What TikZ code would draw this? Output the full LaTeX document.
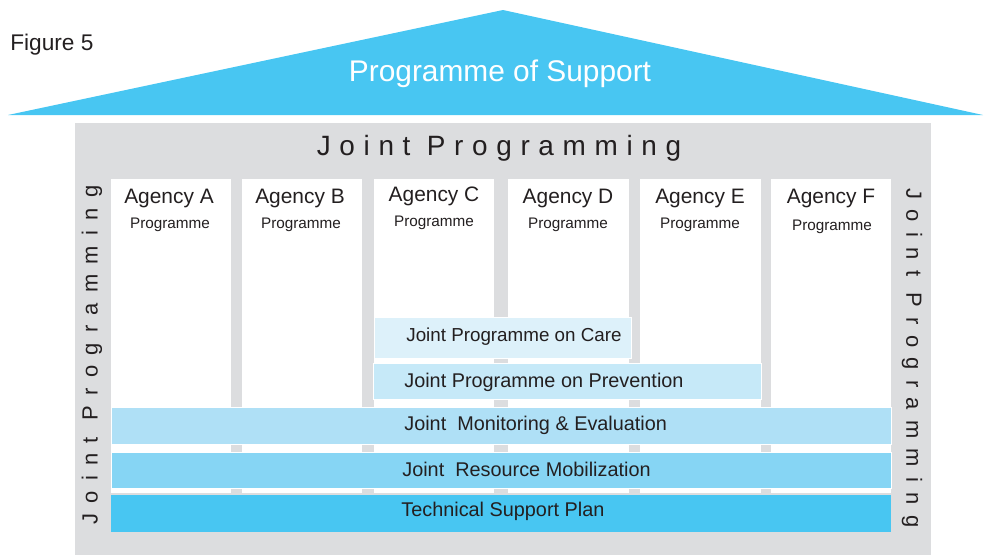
\documentclass[tikz,border=0pt]{standalone}
\usepackage{fontspec}
\setmainfont{Liberation Sans}
\newfontfamily\spacedfont[LetterSpace=31]{Liberation Sans}
\newfontfamily\widefont[LetterSpace=47]{Liberation Sans}
\definecolor{roofblue}{HTML}{48C6F2}
\definecolor{wallgray}{HTML}{DCDDDF}
\definecolor{textgray}{HTML}{231F20}
\definecolor{careblue}{HTML}{DDF1FA}
\definecolor{prevblue}{HTML}{C6E9F8}
\definecolor{mneblue}{HTML}{AFE0F6}
\definecolor{resblue}{HTML}{86D5F4}

\begin{document}
\begin{tikzpicture}[x=0.02cm, y=-0.02cm]
        \tikzset{column/.style={fill=white, anchor=north west, inner sep=0pt, minimum width=2.4cm, minimum height=6.28cm},
                 agency/.style={text=textgray, font=\fontsize{11.9}{14}\selectfont},
                 programme/.style={text=textgray, font=\fontsize{8.7}{10}\selectfont},
                 bar/.style={anchor=north west, inner sep=0pt, draw=white, line width=0.5pt},
                 bartext/.style={anchor=west, inner xsep=0pt, text=textgray, font=\fontsize{11.3}{13}\selectfont}}
        \useasboundingbox (0,0) rectangle (984,555);
        % roof
        \fill [roofblue] (8,115) -- (503,10) -- (983,115) -- cycle;
        \node [text=white, font=\fontsize{17}{20}\selectfont] (support) at (500,74) {Programme of Support};
        \node [text=textgray, font=\fontsize{12.9}{15}\selectfont, anchor=west, inner xsep=0pt] (figure) at (10,45) {Figure 5};
        % house
        \fill [wallgray] (75,123) rectangle (931,555);
        \node [text=textgray, font=\spacedfont\fontsize{15.9}{18}\selectfont] (jptop) at (499,148) {Joint Programming};
        \node [text=textgray, font=\widefont\fontsize{12.5}{15}\selectfont, rotate=90]  (jpleft)  at (92,355) {Joint Programming};
        \node [text=textgray, font=\widefont\fontsize{12.5}{15}\selectfont, rotate=-90] (jpright) at (912,358) {Joint Programming};
        % columns
        \node [column, minimum width=2.40cm] (colA) at (111,179) {};
        \node [column, minimum width=2.40cm] (colB) at (242,179) {};
        \node [column, minimum width=2.40cm] (colC) at (374,179) {};
        \node [column, minimum width=2.42cm] (colD) at (508,179) {};
        \node [column, minimum width=2.42cm] (colE) at (640,179) {};
        \node [column, minimum width=2.40cm] (colF) at (771,179) {};
        \node [agency] (agA) at (169,198) {Agency A};
        \node [agency] (agB) at (300,198) {Agency B};
        \node [agency] (agC) at (434,196) {Agency C};
        \node [agency] (agD) at (568,198) {Agency D};
        \node [agency] (agE) at (700,198) {Agency E};
        \node [agency] (agF) at (831,198) {Agency F};
        \node [programme] (prA) at (170,225) {Programme};
        \node [programme] (prB) at (301,225) {Programme};
        \node [programme] (prC) at (434,223) {Programme};
        \node [programme] (prD) at (568,225) {Programme};
        \node [programme] (prE) at (700,225) {Programme};
        \node [programme] (prF) at (832,227) {Programme};
        % bars
        \node [bar, fill=careblue, minimum width=5.14cm, minimum height=0.82cm] (care) at (374,317) {};
        \node [bar, fill=prevblue, minimum width=7.76cm, minimum height=0.72cm] (prev) at (373,363) {};
        \node [bar, fill=mneblue,  minimum width=15.6cm, minimum height=0.74cm] (mne)  at (111,407) {};
        \node [bar, fill=resblue,  minimum width=15.6cm, minimum height=0.72cm] (res)  at (111,452) {};
        \node [bar, fill=roofblue, draw=none, minimum width=15.6cm, minimum height=0.74cm] (tech) at (111,495) {};
        \node [bartext, font=\fontsize{10.7}{13}\selectfont] (caretext) at (406,337) {Joint Programme on Care};
        \node [bartext] (prevtext) at (404,382) {Joint Programme on Prevention};
        \node [bartext] (mnetext)  at (404,425) {Joint\ \ Monitoring \& Evaluation};
        \node [bartext] (restext)  at (402,469) {Joint\ \ Resource Mobilization};
        \node [bartext] (techtext) at (401,511) {Technical Support Plan};
    \end{tikzpicture}
\end{document}
